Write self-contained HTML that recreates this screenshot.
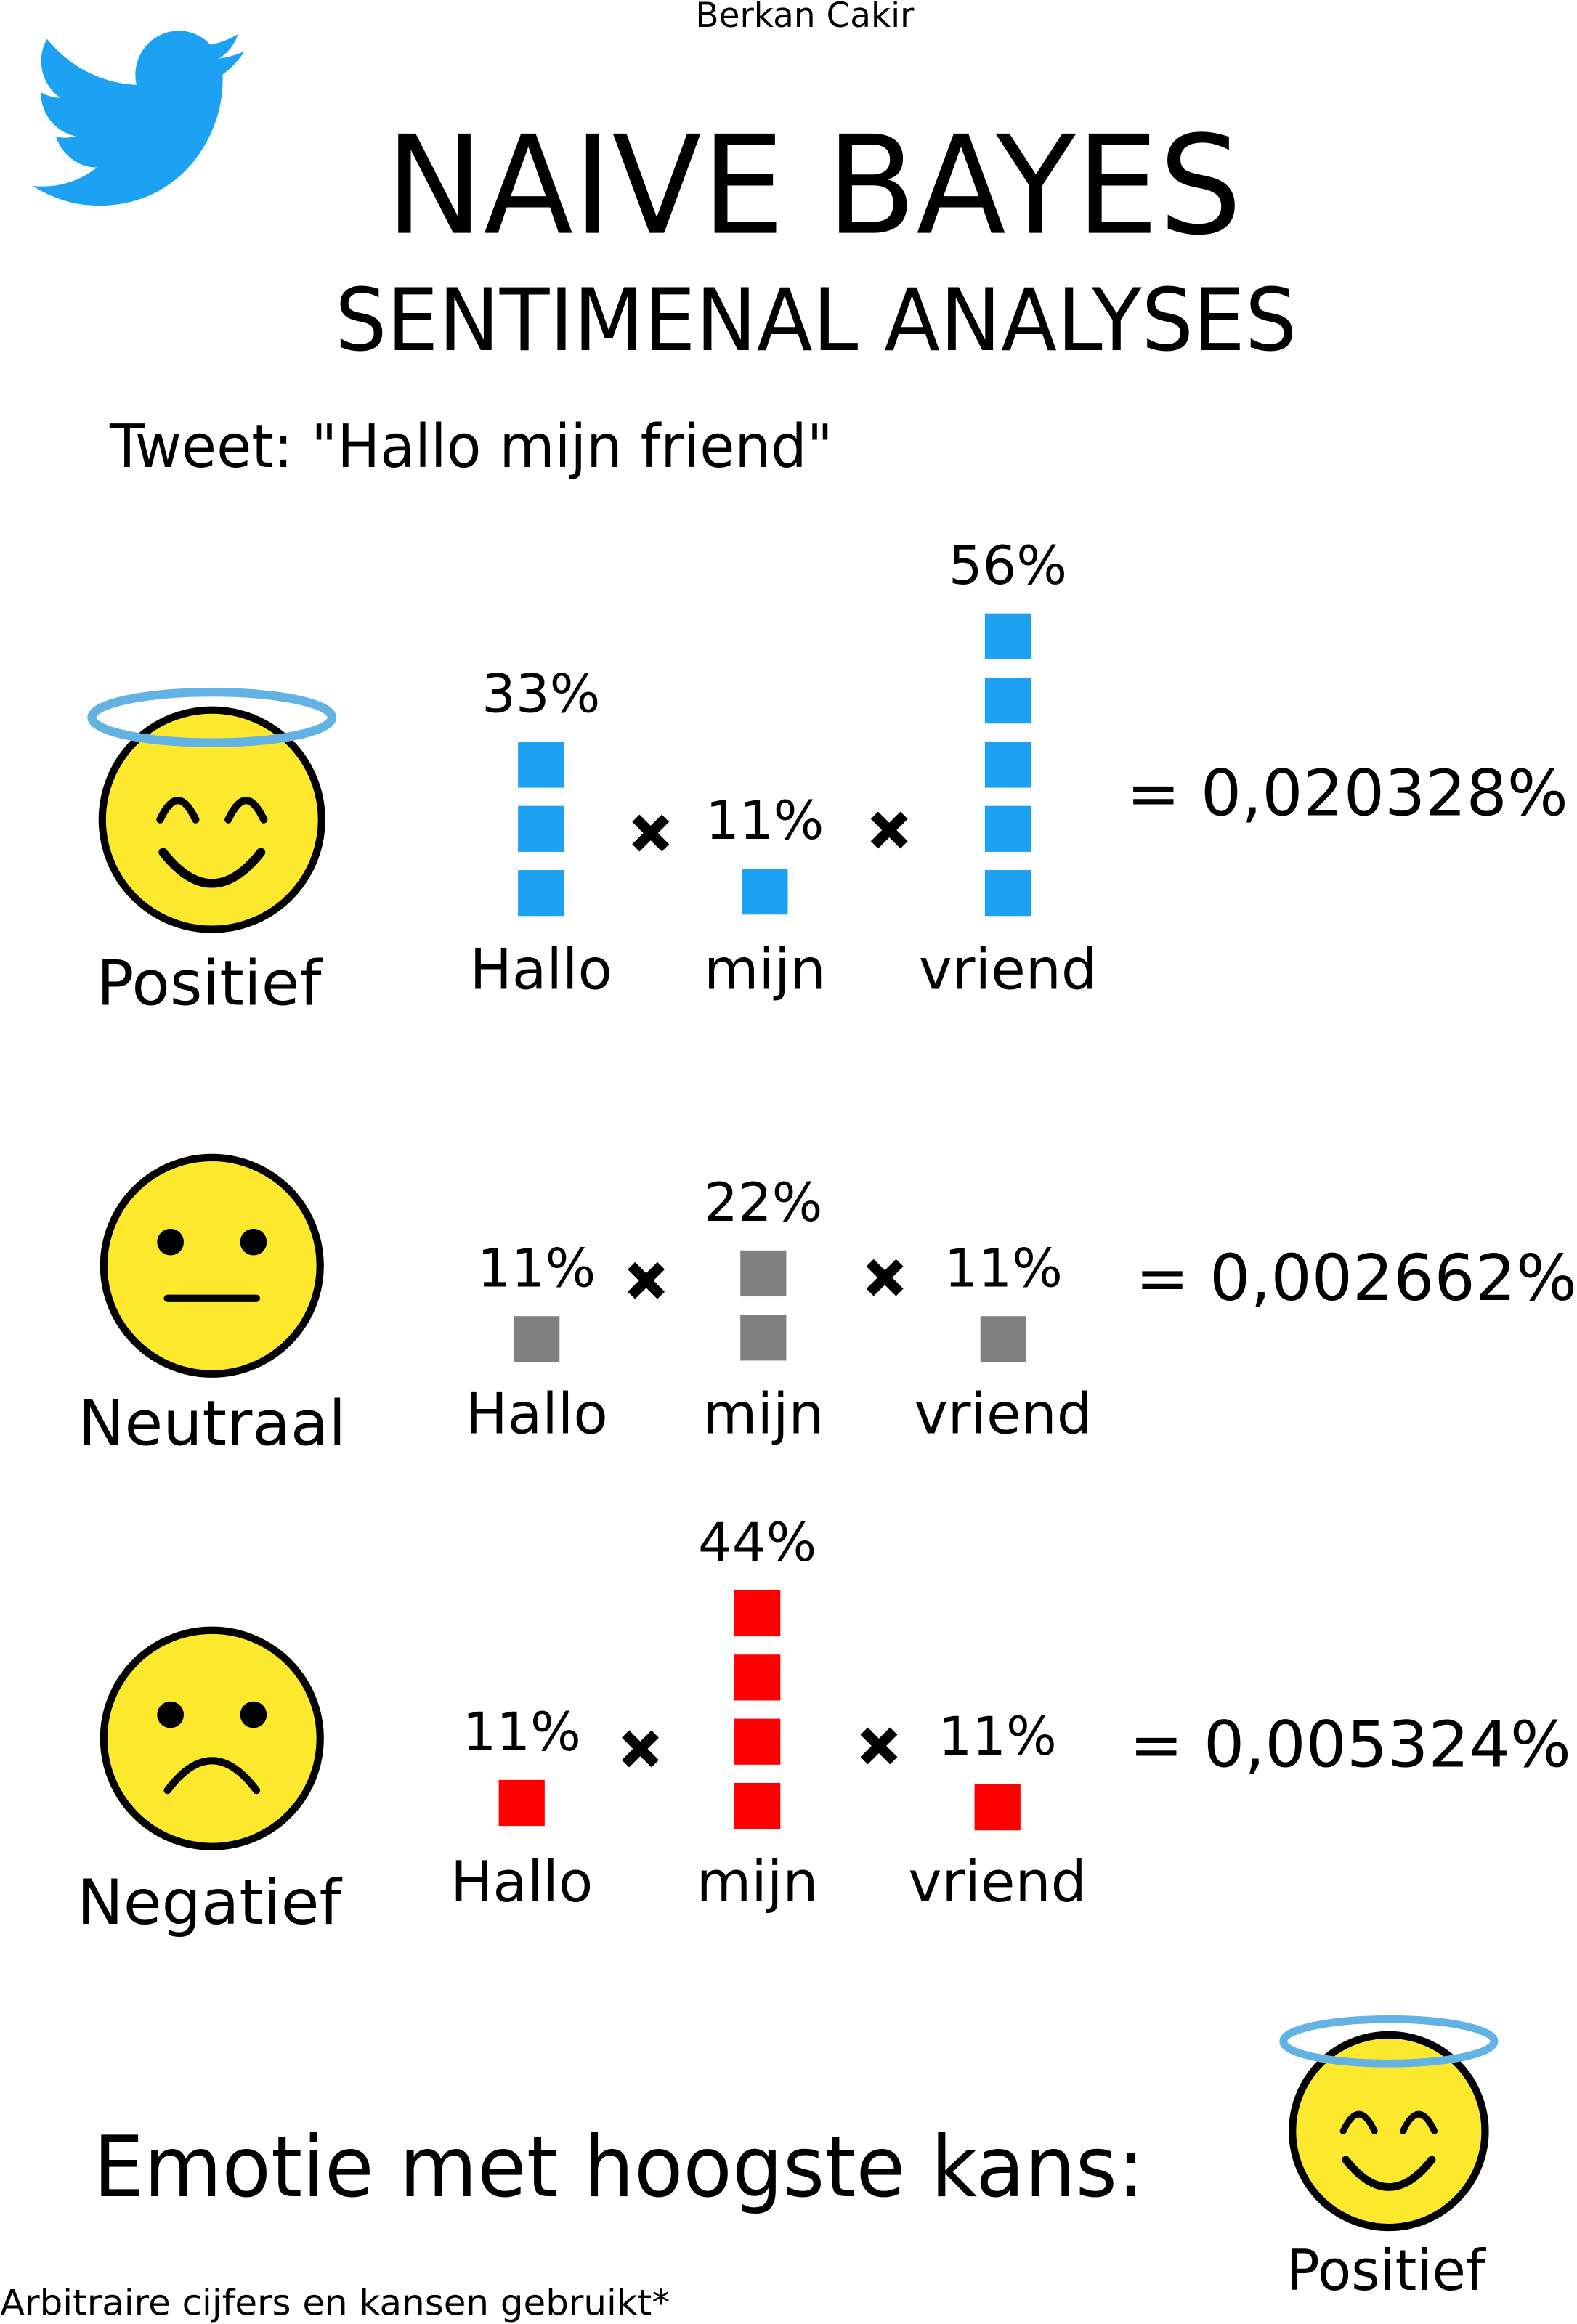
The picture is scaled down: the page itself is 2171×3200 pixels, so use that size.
<!DOCTYPE html>
<html><head><meta charset="utf-8"><style>
html,body{margin:0;padding:0;background:#fff;}
svg{display:block;}
text{font-family:"DejaVu Sans","Liberation Sans",sans-serif;fill:#000;}
</style></head><body>
<svg id="root" width="2171" height="3200" viewBox="0 0 1064 1568" xmlns="http://www.w3.org/2000/svg">
<text x="543" y="18" font-size="23" text-anchor="middle">Berkan Cakir</text>
<g transform="translate(22,7) scale(5.95,6.05)">
<path fill="#1da1f2" d="M23.953 4.57a10 10 0 01-2.825.775 4.958 4.958 0 002.163-2.723c-.951.555-2.005.959-3.127 1.184a4.92 4.920 0 00-8.384 4.482C7.69 8.095 4.067 6.13 1.64 3.162a4.822 4.822 0 00-.666 2.475c0 1.71.87 3.213 2.188 4.096a4.904 4.904 0 01-2.228-.616v.06a4.923 4.923 0 003.946 4.827 4.996 4.996 0 01-2.212.085 4.936 4.936 0 004.604 3.417 9.867 9.867 0 01-6.102 2.105c-.39 0-.779-.023-1.17-.067a13.995 13.995 0 007.557 2.209c9.053 0 13.998-7.496 13.998-13.985 0-.21 0-.42-.015-.63A9.935 9.935 0 0024 4.59z"/>
</g>
<text x="260" y="157" font-size="92" textLength="578" lengthAdjust="spacingAndGlyphs">NAIVE BAYES</text>
<text x="226" y="236" font-size="58" textLength="649" lengthAdjust="spacingAndGlyphs">SENTIMENAL ANALYSES</text>
<text x="74" y="315" font-size="40" textLength="488" lengthAdjust="spacingAndGlyphs">Tweet: "Hallo mijn friend"</text>
<g id="rows"></g>
<text x="63" y="1482" font-size="57" textLength="709" lengthAdjust="spacingAndGlyphs">Emotie met hoogste kans:</text>
<g id="winner"></g>
<text x="935" y="1545" font-size="38" text-anchor="middle" textLength="134" lengthAdjust="spacingAndGlyphs">Positief</text>
<text x="0" y="1562" font-size="24" textLength="452" lengthAdjust="spacingAndGlyphs">Arbitraire cijfers en kansen gebruikt*</text>
</svg>
<script>
const words = ["Hallo", "mijn", "vriend"];
const emotions = ["Positief", "Neutraal", "Negatief"];
const positiveValues = [33, 11, 56];
const neutralValues = [11, 22, 11];
const negativeValues = [11, 44, 11];
const results = ["= 0,020328%", "= 0,002662%", "= 0,005324%"];

const NS = "http://www.w3.org/2000/svg";
const UNIT = 11.1;
function unitCount(v){ return Math.max(1, Math.round(v / UNIT)); }
function squareY(bottom, i){ return bottom - 31 - i * 43.3; }
function mk(tag, attrs, parent){
  const e = document.createElementNS(NS, tag);
  for (const k in attrs) e.setAttribute(k, attrs[k]);
  parent.appendChild(e); return e;
}
const layouts = [
  {values: positiveValues, color:"#1da1f2", face:[143,553,74], cols:[365,516,680], bottoms:[618,617,618], wordY:667, labelY:[480,563,396],
   times:[[439,562],[600,560]], resX:760, resY:550, emoX:141, emoY:678, kind:"happy"},
  {values: neutralValues, color:"#808080", face:[143,854,73], cols:[362,515,677], bottoms:[919,918,919], wordY:967, labelY:[862,823,862],
   times:[[436,864],[597,862]], resX:766, resY:877, emoX:143, emoY:975, kind:"neutral"},
  {values: negativeValues, color:"#ff0000", face:[143,1173,73], cols:[352,511,673], bottoms:[1232,1234,1235], wordY:1283, labelY:[1175,1058,1178],
   times:[[432,1180],[593,1178]], resX:762, resY:1192, emoX:141, emoY:1298, kind:"sad"}
];
function drawFace(g, cx, cy, r, kind){
  const f = mk("circle", {cx:cx, cy:cy, r:r, fill:"#fce82c", stroke:"#000", "stroke-width":5}, g);
  
  
  const k = r/74;
  if (kind === "happy"){
    mk("path", {d:`M${cx-35*k} ${cy} q ${12*k} ${-26*k} ${24*k} 0 M${cx+11*k} ${cy} q ${12*k} ${-26*k} ${24*k} 0`, fill:"none", stroke:"#000", "stroke-width":5*k, "stroke-linecap":"round"}, g);
    mk("path", {d:`M${cx-33*k} ${cy+22*k} q ${33*k} ${42*k} ${66*k} 0`, fill:"none", stroke:"#000", "stroke-width":6*k, "stroke-linecap":"round"}, g);
    const h = mk("ellipse", {cx:cx, cy:cy-69*k, rx:81*k, ry:17*k, fill:"none", stroke:"#63b2e4", "stroke-width":6*k}, g);
    
    
  } else {
    mk("circle", {cx:cx-28, cy:cy-16, r:9, fill:"#000"}, g);
    mk("circle", {cx:cx+28, cy:cy-16, r:9, fill:"#000"}, g);
    if (kind === "neutral") mk("line", {x1:cx-30, y1:cy+22, x2:cx+30, y2:cy+22, stroke:"#000", "stroke-width":5, "stroke-linecap":"round"}, g);
    else mk("path", {d:`M${cx-30} ${cy+35} q 30 -40 60 0`, fill:"none", stroke:"#000", "stroke-width":5, "stroke-linecap":"round"}, g);
  }
}
const rows = document.getElementById("rows");
layouts.forEach((L, r) => {
  const g = mk("g", {}, rows);
  
  
  drawFace(g, L.face[0], L.face[1], L.face[2], L.kind);
  const et = mk("text", {x:L.emoX, y:L.emoY, "font-size":42, "text-anchor":"middle"}, g);
  et.textContent = emotions[r];
  
  
  L.values.forEach((v, i) => {
    const n = unitCount(v);
    let top = 0;
    for (let s = 0; s < n; s++){
      top = squareY(L.bottoms[i], s);
      const b = mk("rect", {x:L.cols[i]-15.5, y:top, width:31, height:31, fill:L.color}, g);
      
      
    }
    const lt = mk("text", {x:L.cols[i], y:top - 20, "font-size":36, "text-anchor":"middle"}, g);
    lt.textContent = v + "%";
    
    
    const wt = mk("text", {x:L.cols[i], y:L.wordY, "font-size":38, "text-anchor":"middle"}, g);
    wt.textContent = words[i];
    
    
  });
  L.times.forEach(t => {
    const x = mk("path", {d:`M${t[0]-10} ${t[1]-10} L${t[0]+10} ${t[1]+10} M${t[0]+10} ${t[1]-10} L${t[0]-10} ${t[1]+10}`, stroke:"#000", "stroke-width":7}, g);
    
    
  });
  const rt = mk("text", {x:L.resX, y:L.resY, "font-size":43, textLength:298, lengthAdjust:"spacingAndGlyphs"}, g);
  rt.textContent = results[r];
  
  
});
const w = document.getElementById("winner");


drawFace(w, 937, 1438, 65, "happy");
</script>
</body></html>
